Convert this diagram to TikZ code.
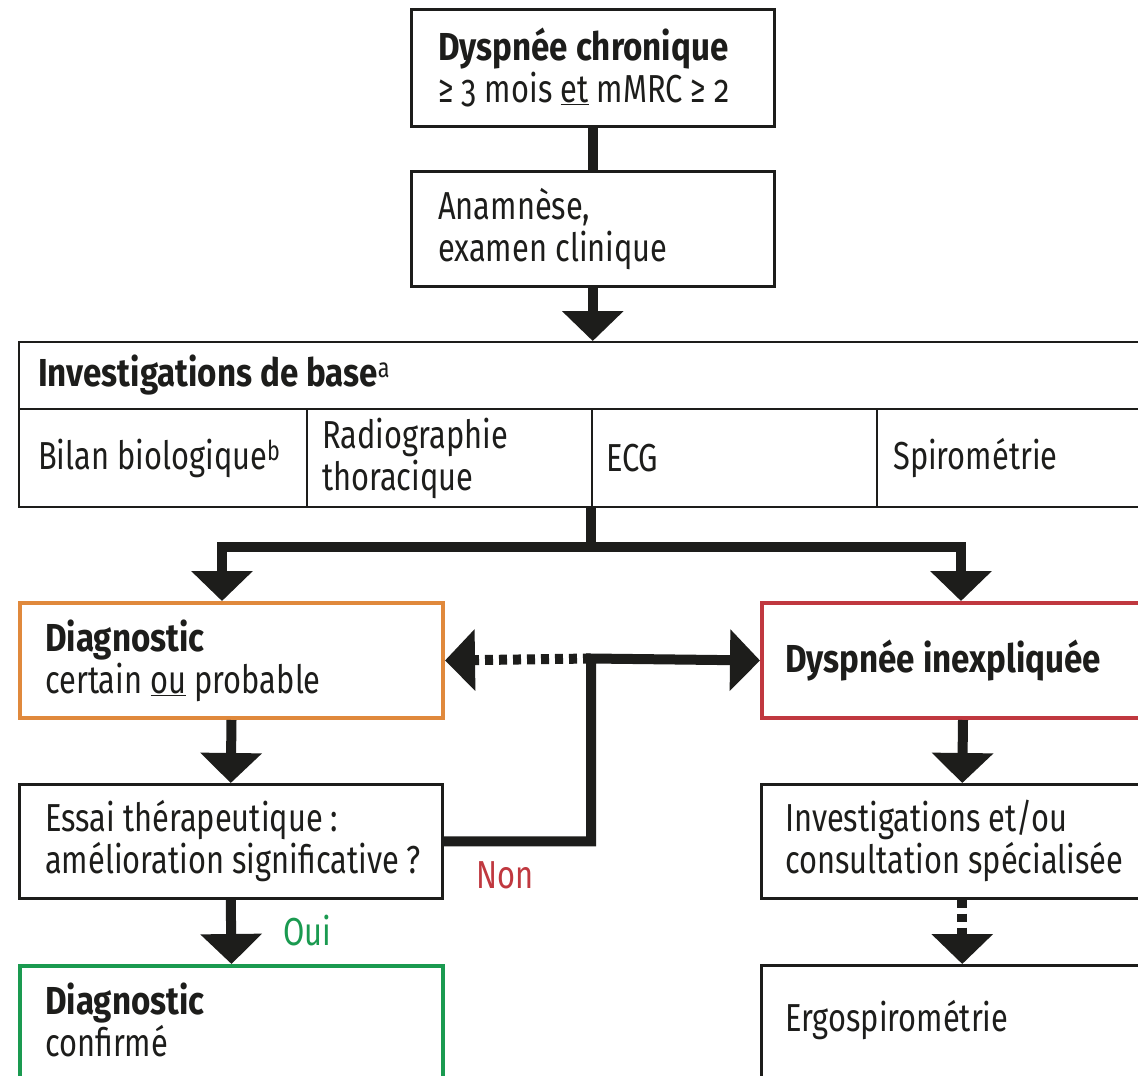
\documentclass[tikz,border=0pt]{standalone}
\usepackage{fontspec}
\setmainfont{Fira Sans}[FakeStretch=0.79, BoldFeatures={FakeStretch=0.85}]
\usetikzlibrary{arrows.meta}
\definecolor{ink}{HTML}{1D1D1B}
\definecolor{orng}{HTML}{E0893C}
\definecolor{rd}{HTML}{C0383F}
\definecolor{grn}{HTML}{1A9A50}
\begin{document}
\begin{tikzpicture}[x=1pt,y=-1pt,
  txt/.style={font=\fontsize{39}{42}\selectfont, text=ink, align=left, inner sep=0pt},
  bx/.style={draw=ink, line width=2.5pt, anchor=north west, inner sep=0pt},
  cbx/.style={draw=#1, line width=4pt, anchor=north west, inner sep=0pt},
  cell/.style={draw=ink, line width=2pt, anchor=north west, inner sep=0pt},
  conn/.style={draw=ink, line width=10pt, line join=miter},
  arr/.style={-{Triangle[width=60pt,length=30pt]}},
  dsh/.style={dash pattern=on 8pt off 6pt}
]
\clip (0,0) rectangle (1138,1076);
\fill[white] (0,0) rectangle (1138,1076);

% top boxes
\node[bx, minimum width=363pt, minimum height=117pt] (b1) at (410,8) {};
\node[txt, anchor=west] (b1t) at ([xshift=28pt]b1.west) {\textbf{Dyspnée chronique}\\{\addfontfeature{Numbers=OldStyle}≥ 3 mois \underline{et} mMRC ≥ 2}};
\node[bx, minimum width=363pt, minimum height=115pt] (b2) at (410,170) {};
\node[txt, anchor=west] (b2t) at ([xshift=28pt]b2.west) {Anamnèse,\\examen clinique};

% table
\node[cell, minimum width=1142pt, minimum height=67pt] (hdr) at (18,341) {};
\node[txt, anchor=west] (hdrt) at ([xshift=20pt]hdr.west) {\textbf{Investigations de base}\textsuperscript{a}};
\node[cell, minimum width=288pt, minimum height=98pt] (c1) at (18,408) {};
\node[cell, minimum width=285pt, minimum height=98pt] (c2) at (306,408) {};
\node[cell, minimum width=285pt, minimum height=98pt] (c3) at (591,408) {};
\node[cell, minimum width=284pt, minimum height=98pt] (c4) at (876,408) {};
\node[txt, anchor=west] (c1t) at ([xshift=20pt]c1.west) {Bilan biologique\textsuperscript{b}};
\node[txt, anchor=west] (c2t) at ([xshift=16pt]c2.west) {Radiographie\\thoracique};
\node[txt, anchor=west] (c3t) at ([xshift=15pt]c3.west) {ECG};
\node[txt, anchor=west] (c4t) at ([xshift=17pt]c4.west) {Spirométrie};

% middle boxes
\node[cbx=orng, minimum width=423pt, minimum height=115pt] (diag) at (18,601) {};
\node[txt, anchor=west] (diagt) at ([xshift=27pt]diag.west) {\textbf{Diagnostic}\\certain \underline{ou} probable};
\node[cbx=rd, minimum width=402pt, minimum height=115pt] (inex) at (760,601) {};
\node[txt, anchor=west] (inext) at ([xshift=25pt]inex.west) {\textbf{Dyspnée inexpliquée}};

\node[bx, minimum width=423pt, minimum height=114pt] (essai) at (18,783) {};
\node[txt, anchor=west] (essait) at ([xshift=27pt]essai.west) {Essai thérapeutique :\\amélioration significative ?};
\node[bx, minimum width=402pt, minimum height=114pt] (inv) at (760,783) {};
\node[txt, anchor=west] (invt) at ([xshift=25pt]inv.west) {Investigations et/ou\\consultation spécialisée};

% bottom boxes (continue beyond the lower edge)
\node[cbx=grn, minimum width=423pt, minimum height=200pt] (conf) at (18,964) {};
\node[txt, anchor=west] (conft) at ([xshift=27pt,yshift=-56pt]conf.north west) {\textbf{Diagnostic}\\confirmé};
\node[bx, minimum width=402pt, minimum height=200pt] (ergo) at (760,964) {};
\node[txt, anchor=west] (ergot) at ([xshift=25pt,yshift=-56pt]ergo.north west) {Ergospirométrie};

% connectors
\coordinate (jL) at (222,547);
\coordinate (jR) at (961,547);
\coordinate (jM) at (591,658.5);
\draw[conn] (b1.south) -- (b2.north);
\draw[conn,arr] (b2.south) -- (b2.south |- hdr.north);
\draw[conn] (c3.south west) -- (c3.south west |- jL);
\draw[conn,{Triangle[width=60pt,length=30pt]}-{Triangle[width=60pt,length=30pt]}] (jL |- diag.north) -- (jL) -- (jR) -- (jR |- inex.north);
\draw[conn,arr] (diag.south) -- (essai.north);
\draw[conn,arr] (essai.south) -- (conf.north);
\draw[conn,arr] (essai.east) -| (jM) -- (inex.west);
\draw[conn,dsh,arr] (jM) -- (diag.east);
\draw[conn,arr] (inex.south) -- (inv.north);
\draw[conn,dsh,arr] (inv.south) -- (ergo.north);

% labels
\node[txt, text=rd, anchor=base west] (non) at (476,888) {Non};
\node[txt, text=grn, anchor=base west] (oui) at (283,945) {Oui};
\end{tikzpicture}
\end{document}
